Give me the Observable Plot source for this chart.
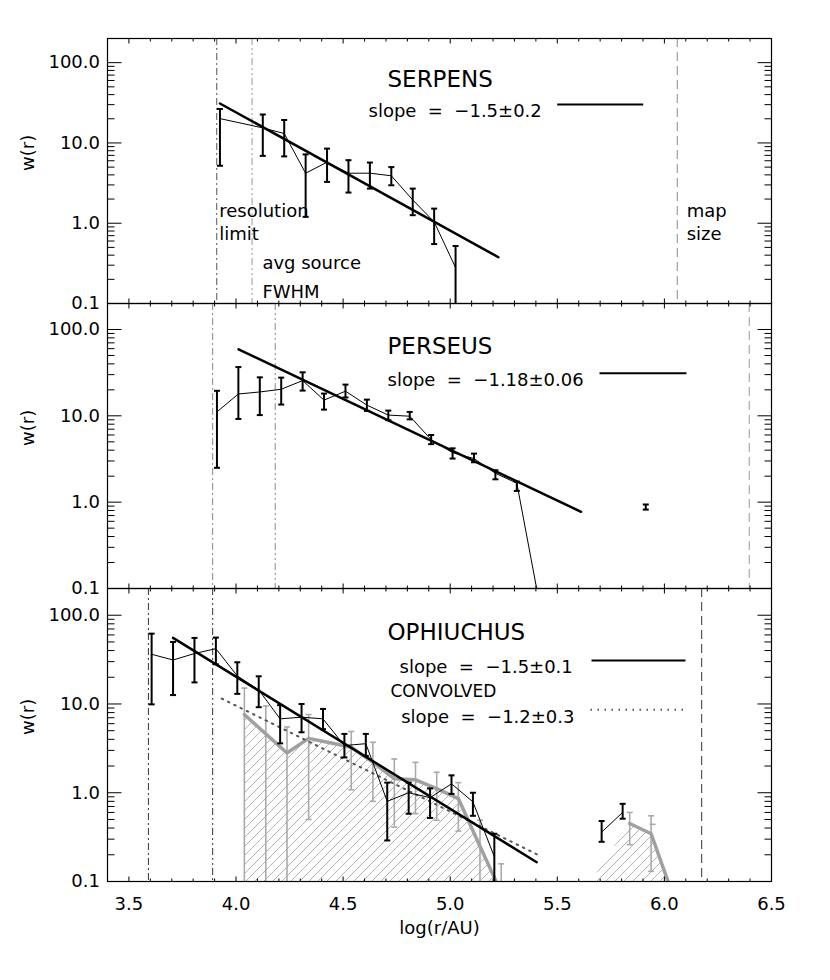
<!DOCTYPE html>
<html><head><meta charset="utf-8">
<script src="https://cdn.jsdelivr.net/npm/d3@7"></script>
<script src="https://cdn.jsdelivr.net/npm/@observablehq/plot@0.6"></script>
<style>
html,body{margin:0;padding:0;background:#fff;}
#wrap{position:relative;width:830px;height:980px;overflow:hidden;background:#fff;}
</style></head><body><div id="wrap"></div>
<script>
// ---------- axes ----------
const xDomain = [3.4, 6.5];
const yDomain = [0.1, 200];
const xMajorTicks = [3.5, 4.0, 4.5, 5.0, 5.5, 6.0, 6.5];
const xTickLabels = ["3.5", "4.0", "4.5", "5.0", "5.5", "6.0", "6.5"];
const yMajorTicks = [0.1, 1, 10, 100];
const yTickLabels = ["0.1", "1.0", "10.0", "100.0"];

// ---------- SERPENS ----------
const serpensX  = [3.925, 4.125, 4.225, 4.325, 4.425, 4.525, 4.625, 4.725, 4.825, 4.925, 5.025];
const serpensW  = [20.1, 15.4, 13.1, 4.2, 5.75, 4.2, 4.2, 3.9, 1.95, 1.04, 0.28];
const serpensHi = [26.5, 22.6, 19.3, 7.2, 8.5, 6.1, 5.7, 5.0, 2.7, 1.52, 0.52];
const serpensLo = [5.2, 6.9, 6.8, 1.2, 3.27, 2.41, 2.7, 2.97, 1.26, 0.55, 0];
const serpensFitX = [3.925, 5.225];
const serpensFitW = [31, 0.377];
const serpensRefX = [3.91, 4.075, 6.06]; // resolution limit, avg source FWHM, map size

// ---------- PERSEUS ----------
const perseusX  = [3.911, 4.011, 4.111, 4.211, 4.311, 4.411, 4.511, 4.611, 4.711, 4.811, 4.911, 5.011, 5.111, 5.211, 5.311, 5.411];
const perseusW  = [11.1, 17.9, 18.9, 20.3, 25.6, 15.2, 19.3, 13.3, 10.2, 9.9, 5.3, 3.74, 3.2, 2.16, 1.66, 0.08];
const perseusHi = [19.5, 36.7, 27.9, 27.7, 31.9, 18.1, 23.0, 15.4, 11.5, 11.1, 6.0, 4.2, 3.65, 2.34, 1.73, null];
const perseusLo = [2.5, 9.2, 10.2, 13.5, 19.6, 11.8, 16.3, 11.4, 8.9, 9.1, 4.7, 3.2, 2.9, 1.84, 1.35, null];
const perseusIsoX = [5.913];
const perseusIsoW = [0.875];
const perseusIsoHi = [0.94];
const perseusIsoLo = [0.82];
const perseusFitX = [4.012, 5.611];
const perseusFitW = [58.8, 0.773];
const perseusRefX = [3.891, 4.183, 6.396];

// ---------- OPHIUCHUS ----------
const ophX  = [3.606, 3.706, 3.806, 3.906, 4.006, 4.106, 4.206, 4.306, 4.406, 4.506, 4.606, 4.706, 4.806, 4.906, 5.006, 5.106, 5.206];
const ophW  = [36.3, 31.3, 37.0, 42.0, 20.7, 14.4, 6.8, 7.1, 6.8, 3.4, 3.57, 0.80, 1.0, 0.88, 1.26, 0.79, 0.19];
const ophHi = [62, 50, 55.5, 56, 29.5, 20.5, 9.7, 10.0, 8.8, 4.6, 4.6, 1.3, 1.3, 1.12, 1.57, 1.0, 0.345];
const ophLo = [9.9, 12.6, 17.5, 28, 13.0, 9.2, 3.6, 4.8, 5.2, 2.5, 2.6, 0.29, 0.58, 0.52, 0.97, 0.55, 0];
const ophX2  = [5.707, 5.805];
const ophW2  = [0.36, 0.60];
const ophHi2 = [0.48, 0.75];
const ophLo2 = [0.28, 0.51];
const ophFitX = [3.706, 5.404];
const ophFitW = [55.5, 0.165];
// convolved
const convX  = [4.039, 4.139, 4.238, 4.339, 4.439, 4.538, 4.639, 4.739, 4.838, 4.937, 5.038, 5.139, 5.238];
const convW  = [7.6, 4.6, 2.8, 4.1, 3.66, 3.25, 2.2, 1.44, 1.40, 1.11, 0.86, 0.25, 0.075];
const convHi = [15.1, 9.5, 5.5, 7.6, null, 4.9, 3.7, 2.4, 2.2, 1.7, 1.3, 0.49, 0.158];
const convLo = [0, 0, 0, 0.5, null, 1.08, 0.8, 0.41, 0.58, 0.49, 0.37, 0, 0];
const conv2X  = [5.838, 5.938, 6.038];
const conv2W  = [0.45, 0.345, 0.072];
const conv2Hi = [0.6, 0.55, null];
const conv2Lo = [0.26, 0.13, null];
const conv2AreaX = [5.66, 5.838, 5.938, 6.038];
const conv2AreaW = [0.1, 0.45, 0.345, 0.072];
const convExtraX = [5.945];
const convExtraW = [0.44];
const convFitX = [3.933, 5.422];
const convFitW = [11.5, 0.193];
const ophRefX = [3.591, 3.891, 6.174];

// ---------- helpers ----------
const rows = (x, w, hi, lo) => x.map((v, i) => ({x: v, w: w[i], hi: hi ? hi[i] : null, lo: lo ? lo[i] : null}));
const xMinorTicks = d3.range(34, 66).map(k => k / 10).filter(v => !xMajorTicks.some(m => Math.abs(m - v) < 1e-6));
const yMinorTicks = [];
for (const d of [0.1, 1, 10, 100]) for (let k = 2; k <= 9; k++) if (d * k <= yDomain[1]) yMinorTicks.push(+(d * k).toPrecision(3));

const capSymbol = {draw(ctx, size) { const r = Math.sqrt(size / Math.PI); ctx.moveTo(-r, 0); ctx.lineTo(r, 0); }};
const legendSymbol = {draw(ctx, size) { const r = Math.sqrt(size / Math.PI); ctx.moveTo(0, 0); ctx.lineTo(2 * r, 0); }};

const FL = 107, FR = 771, W = 830;

function errorBars(data, stroke, strokeWidth) {
  const bars = data.filter(d => d.hi != null);
  const low = d => (d.lo > 0 ? d.lo : yDomain[0] / 10);
  return [
    Plot.ruleX(bars, {x: "x", y1: low, y2: "hi", stroke, strokeWidth, clip: true}),
    Plot.dot(bars, {x: "x", y: "hi", symbol: capSymbol, r: 3, stroke, strokeWidth, fill: "none"}),
    Plot.dot(bars.filter(d => d.lo > 0), {x: "x", y: "lo", symbol: capSymbol, r: 3, stroke, strokeWidth, fill: "none"})
  ];
}

// inward ticks on all four sides, lengths given in pixels and converted via the scale spans
function frameAxes(fh) {
  const kx = (FR - FL) / (xDomain[1] - xDomain[0]);           // px per x unit
  const ky = fh / Math.log10(yDomain[1] / yDomain[0]);          // px per decade
  const xt = (ticks, len) => {
    const f = Math.pow(10, len / ky);
    return [
      Plot.link(ticks, {x1: d => d, x2: d => d, y1: yDomain[0], y2: yDomain[0] * f, stroke: "black", strokeWidth: 1}),
      Plot.link(ticks, {x1: d => d, x2: d => d, y1: yDomain[1], y2: yDomain[1] / f, stroke: "black", strokeWidth: 1})
    ];
  };
  const yt = (ticks, len) => [
    Plot.link(ticks, {y1: d => d, y2: d => d, x1: xDomain[0], x2: xDomain[0] + len / kx, stroke: "black", strokeWidth: 1}),
    Plot.link(ticks, {y1: d => d, y2: d => d, x1: xDomain[1], x2: xDomain[1] - len / kx, stroke: "black", strokeWidth: 1})
  ];
  return [
    ...xt(xMinorTicks, 3), ...xt(xMajorTicks, 5),
    ...yt(yMinorTicks, 7), ...yt(yMajorTicks, 14),
    Plot.axisY(yMajorTicks, {anchor: "left", tickSize: 0, tickPadding: 7.5, fontSize: 18,
      tickFormat: d => yTickLabels[yMajorTicks.indexOf(d)], label: null}),
    Plot.text(["w(r)"], {frameAnchor: "left", dx: -79, rotate: -90, fontSize: 18}),
    Plot.frame({stroke: "black", strokeWidth: 1.2})
  ];
}

function refLines(refX, colors) {
  return [
    Plot.ruleX([refX[0]], {stroke: colors[0], strokeWidth: 1, strokeDasharray: "7,3,2,3"}),
    Plot.ruleX([refX[1]], {stroke: colors[1], strokeWidth: 1, strokeDasharray: "7,3,2,3,2,3"}),
    Plot.ruleX([refX[2]], {stroke: colors[2], strokeWidth: 1, strokeDasharray: "9,5"})
  ];
}

function legendLine(dx, dy, len, extra = {}) {
  return Plot.dot([0], {frameAnchor: "top-left", dx, dy, r: len / 2, symbol: legendSymbol,
    stroke: "black", strokeWidth: 2, fill: "none", ...extra});
}

const wrap = document.getElementById("wrap");
function panel(top, bottom, marks, mb = 10) {
  const mt = 10;
  const svg = Plot.plot({
    width: W, height: (bottom - top) + mt + mb,
    marginLeft: FL, marginRight: W - FR, marginTop: mt, marginBottom: mb,
    x: {domain: xDomain, axis: null}, y: {type: "log", domain: yDomain, axis: null},
    style: "font-family: 'DejaVu Sans', sans-serif; font-size: 18px; background: transparent; overflow: visible; color: black;",
    marks: [...marks, ...frameAxes(bottom - top)]
  });
  svg.style.position = "absolute";
  svg.style.left = "0px";
  svg.style.top = (top - mt) + "px";
  wrap.appendChild(svg);
  return svg;
}

// ---------- panel 1: SERPENS ----------
const serpens = rows(serpensX, serpensW, serpensHi, serpensLo);
panel(38, 303, [
  ...refLines(serpensRefX, ["#555", "#999", "#888"]),
  Plot.line(serpens, {x: "x", y: "w", stroke: "black", strokeWidth: 1, clip: true}),
  ...errorBars(serpens, "black", 2),
  Plot.line(rows(serpensFitX, serpensFitW), {x: "x", y: "w", stroke: "black", strokeWidth: 2.5}),
  Plot.text(["SERPENS"], {frameAnchor: "top-left", dx: 280, dy: 32, textAnchor: "start", fontSize: 23}),
  Plot.text(["slope  =  −1.5±0.2"], {frameAnchor: "top-left", dx: 261, dy: 66, textAnchor: "start", fontSize: 18}),
  legendLine(449.7, 66, 86),
  Plot.text(["resolution\nlimit"], {x: serpensRefX[0], frameAnchor: "top", dx: 2.5, dy: 161.7, textAnchor: "start", lineAnchor: "top", lineHeight: 1.3, fontSize: 18}),
  Plot.text(["avg source\nFWHM"], {x: serpensRefX[1], frameAnchor: "top", dx: 10.3, dy: 210, textAnchor: "start", lineAnchor: "top", lineHeight: 1.61, fontSize: 18}),
  Plot.text(["map\nsize"], {x: serpensRefX[2], frameAnchor: "top", dx: 9.4, dy: 161.7, textAnchor: "start", lineAnchor: "top", lineHeight: 1.3, fontSize: 18})
]);

// ---------- panel 2: PERSEUS ----------
const perseus = rows(perseusX, perseusW, perseusHi, perseusLo);
const perseusIso = rows(perseusIsoX, perseusIsoW, perseusIsoHi, perseusIsoLo);
panel(303, 588, [
  ...refLines(perseusRefX, ["#888", "#888", "#999"]),
  Plot.line(perseus, {x: "x", y: "w", stroke: "black", strokeWidth: 1, clip: true}),
  ...errorBars(perseus, "black", 2),
  ...errorBars(perseusIso, "black", 2),
  Plot.line(rows(perseusFitX, perseusFitW), {x: "x", y: "w", stroke: "black", strokeWidth: 2.5}),
  Plot.text(["PERSEUS"], {frameAnchor: "top-left", dx: 280, dy: 34.5, textAnchor: "start", fontSize: 23}),
  Plot.text(["slope  =  −1.18±0.06"], {frameAnchor: "top-left", dx: 280, dy: 69.7, textAnchor: "start", fontSize: 18}),
  legendLine(492, 69.7, 87)
]);

// ---------- panel 3: OPHIUCHUS ----------
const oph = rows(ophX, ophW, ophHi, ophLo);
const oph2 = rows(ophX2, ophW2, ophHi2, ophLo2);
const conv = rows(convX, convW, convHi, convLo);
const conv2 = rows(conv2X, conv2W, conv2Hi, conv2Lo);
const conv2Area = rows(conv2AreaX, conv2AreaW);
const svg3 = panel(588, 881, [
  Plot.areaY(conv, {x: "x", y1: yDomain[0], y2: "w", fill: "url(#hatch)", clip: true}),
  Plot.areaY(conv2Area, {x: "x", y1: yDomain[0], y2: "w", fill: "url(#hatch)", clip: true}),
  ...refLines(ophRefX, ["#333", "#333", "#333"]),
  ...errorBars(conv, "#aaa", 1.6),
  ...errorBars(conv2, "#aaa", 1.6),
  Plot.dot(rows(convExtraX, convExtraW), {x: "x", y: "w", symbol: capSymbol, r: 3, stroke: "#aaa", strokeWidth: 1.6, fill: "none"}),
  Plot.line(conv, {x: "x", y: "w", stroke: "#a0a0a0", strokeWidth: 3.5, clip: true}),
  Plot.line(conv2, {x: "x", y: "w", stroke: "#a0a0a0", strokeWidth: 3.5, clip: true}),
  Plot.line(rows(convFitX, convFitW), {x: "x", y: "w", stroke: "#555", strokeWidth: 2, strokeDasharray: "1.5,5.5"}),
  Plot.line(oph, {x: "x", y: "w", stroke: "black", strokeWidth: 1, clip: true}),
  Plot.line(oph2, {x: "x", y: "w", stroke: "black", strokeWidth: 1, clip: true}),
  ...errorBars(oph, "black", 2),
  ...errorBars(oph2, "black", 2),
  Plot.line(rows(ophFitX, ophFitW), {x: "x", y: "w", stroke: "black", strokeWidth: 2.5}),
  Plot.text(["OPHIUCHUS"], {frameAnchor: "top-left", dx: 280, dy: 35.3, textAnchor: "start", fontSize: 23}),
  Plot.text(["slope  =  −1.5±0.1"], {frameAnchor: "top-left", dx: 465.3, dy: 72, textAnchor: "end", fontSize: 18}),
  Plot.text(["CONVOLVED"], {frameAnchor: "top-left", dx: 283, dy: 96.3, textAnchor: "start", fontSize: 17}),
  Plot.text(["slope  =  −1.2±0.3"], {frameAnchor: "top-left", dx: 467, dy: 121.3, textAnchor: "end", fontSize: 18}),
  legendLine(484, 72, 94),
  legendLine(483, 121.3, 95, {stroke: "#555", strokeDasharray: "1.5,5.5"}),
  Plot.axisX(xMajorTicks, {anchor: "bottom", tickSize: 0, tickPadding: 15.5, fontSize: 18,
    tickFormat: d => xTickLabels[xMajorTicks.indexOf(d)], label: null}),
  Plot.text(["log(r/AU)"], {frameAnchor: "bottom", dy: 52, fontSize: 18})
], 99);

// hatch pattern definition
const ns = "http://www.w3.org/2000/svg";
const defs = document.createElementNS(ns, "defs");
const pat = document.createElementNS(ns, "pattern");
pat.setAttribute("id", "hatch");
pat.setAttribute("patternUnits", "userSpaceOnUse");
pat.setAttribute("width", "9");
pat.setAttribute("height", "9");
const pp = document.createElementNS(ns, "path");
pp.setAttribute("d", "M-1,1L1,-1M0,9L9,0M8,10L10,8");
pp.setAttribute("stroke", "#aaa");
pp.setAttribute("stroke-width", "0.9");
pat.appendChild(pp);
defs.appendChild(pat);
svg3.insertBefore(defs, svg3.firstChild);
</script>
</body></html>
